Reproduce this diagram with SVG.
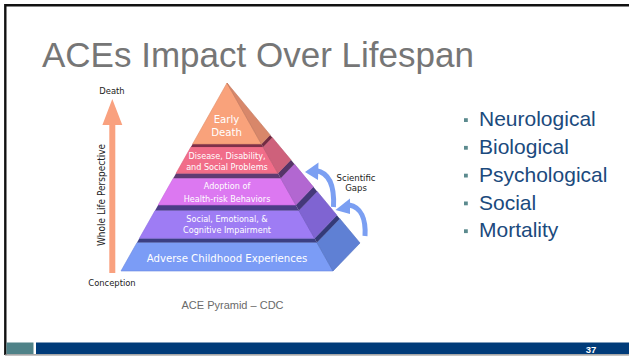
<svg xmlns="http://www.w3.org/2000/svg" width="629" height="356" viewBox="0 0 629 356">
  <style>
    .title { font-family: "Liberation Sans", Arial, sans-serif; font-size: 35px; fill: #767676; }
    .bullet { font-family: "Liberation Sans", Arial, sans-serif; font-size: 21px; fill: #1b4a7d; }
    .dot { fill: #5b8a8e; }
    .tier { font-family: "DejaVu Sans Condensed", "DejaVu Sans", sans-serif; font-stretch: condensed; fill: #ffffff; text-anchor: middle; }
    .side-label { font-family: "DejaVu Sans Condensed", "DejaVu Sans", sans-serif; font-stretch: condensed; fill: #222222; text-anchor: middle; }
    .caption { font-family: "Liberation Sans", Arial, sans-serif; font-size: 11px; fill: #6a6a6a; text-anchor: middle; }
    .gap-arrow { fill: none; stroke: #7b9ff2; stroke-width: 5; stroke-linecap: butt; }
    .gap-head { fill: #7b9ff2; }
    .face { stroke-width: 0.6; stroke-linejoin: round; }
  </style>

  <!-- slide frame -->
  <rect x="0" y="0" width="629" height="356" fill="#ffffff"/>
  <line x1="5.5" y1="5.3" x2="629" y2="5.3" stroke="#111111" stroke-width="2.4"/>
  <line x1="5.3" y1="4.1" x2="5.3" y2="355" stroke="#111111" stroke-width="2.4"/>

  <!-- footer bar -->
  <g id="footer">
    <rect x="6.5" y="342.5" width="27" height="11.5" fill="#4f8288"/>
    <rect x="36" y="342.5" width="593" height="11.5" fill="#003b79"/>
    <line x1="5" y1="354.8" x2="629" y2="354.8" stroke="#8a8a8a" stroke-width="1.2"/>
    <text x="591" y="353" font-family="Liberation Sans, Arial, sans-serif" font-size="9.5" font-weight="bold" fill="#ffffff" text-anchor="middle">37</text>
  </g>

  <!-- heading -->
  <text id="title" class="title" x="42" y="67">ACEs Impact Over Lifespan</text>

  <!-- bullet list -->
  <g id="bullets">
    <rect class="dot" x="464" y="118.2" width="3.8" height="3.8"/>
    <text class="bullet" x="479" y="126.3">Neurological</text>
    <rect class="dot" x="464" y="145.9" width="3.8" height="3.8"/>
    <text class="bullet" x="479" y="154">Biological</text>
    <rect class="dot" x="464" y="173.7" width="3.8" height="3.8"/>
    <text class="bullet" x="479" y="181.8">Psychological</text>
    <rect class="dot" x="464" y="201.5" width="3.8" height="3.8"/>
    <text class="bullet" x="479" y="209.6">Social</text>
    <rect class="dot" x="464" y="229.3" width="3.8" height="3.8"/>
    <text class="bullet" x="479" y="237.4">Mortality</text>
  </g>

  <!-- life-span axis -->
  <g id="lifespan-axis">
    <polygon points="112.3,99 122.3,125 115.3,125 115.3,273 109.3,273 109.3,125 102.4,125" fill="#f9a17f"/>
    <text class="side-label" x="112" y="94" font-size="9.3">Death</text>
    <text class="side-label" x="112" y="286" font-size="9.3">Conception</text>
    <text class="side-label" font-size="10" transform="translate(104.5,195) rotate(-90)">Whole Life Perspective</text>
  </g>

  <!-- pyramid tiers, bottom to top -->
  <g id="tier-ace">
    <polygon class="face" points="137.07,242.5 316.93,242.5 333,271 121,271" fill="#7b9cf6" stroke="#6a88e0"/>
    <polygon class="face" points="316.93,242.5 339.84,218.74 360,243 333,271" fill="#5f80d4" stroke="#4f6fc0"/>
    <text class="tier" x="227" y="261.5" font-size="11.3">Adverse Childhood Experiences</text>
  </g>
  <g id="band-4">
    <polygon points="139.44,238.3 314.56,238.3 316.93,242.5 137.07,242.5" fill="#3b3f84"/>
    <polygon points="314.56,238.3 336.86,215.17 339.84,218.74 316.93,242.5" fill="#343a78"/>
  </g>
  <g id="tier-impairment">
    <polygon class="face" points="155.12,210.5 298.88,210.5 314.56,238.3 139.44,238.3" fill="#9e7cf4" stroke="#8a6be0"/>
    <polygon class="face" points="298.88,210.5 317.19,191.51 336.86,215.17 314.56,238.3" fill="#7f64d2" stroke="#6c54bd"/>
    <text class="tier" x="227" y="221.5" font-size="9">Social, Emotional, &amp;</text>
    <text class="tier" x="227" y="233.3" font-size="9">Cognitive Impairment</text>
  </g>
  <g id="band-3">
    <polygon points="158.22,205 295.78,205 298.88,210.5 155.12,210.5" fill="#4b3d86"/>
    <polygon points="295.78,205 313.3,186.83 317.19,191.51 298.88,210.5" fill="#44387a"/>
  </g>
  <g id="tier-behaviors">
    <polygon class="face" points="173.27,178.3 280.73,178.3 295.78,205 158.22,205" fill="#dc78f1" stroke="#c867de"/>
    <polygon class="face" points="280.73,178.3 294.42,164.1 313.3,186.83 295.78,205" fill="#b267d1" stroke="#9d58bd"/>
    <text class="tier" x="227" y="189.3" font-size="9">Adoption of</text>
    <text class="tier" x="227" y="201.5" font-size="9">Health-risk Behaviors</text>
  </g>
  <g id="band-2">
    <polygon points="176.09,173.3 277.91,173.3 280.73,178.3 173.27,178.3" fill="#5e3a72"/>
    <polygon points="277.91,173.3 290.88,159.85 294.42,164.1 280.73,178.3" fill="#553468"/>
  </g>
  <g id="tier-disease">
    <polygon class="face" points="190.92,147 263.08,147 277.91,173.3 176.09,173.3" fill="#f16d89" stroke="#dd5e7a"/>
    <polygon class="face" points="263.08,147 272.27,137.47 290.88,159.85 277.91,173.3" fill="#ce617b" stroke="#b8546c"/>
    <text class="tier" x="227" y="158.5" font-size="9">Disease, Disability,</text>
    <text class="tier" x="227" y="170.2" font-size="9">and Social Problems</text>
  </g>
  <g id="band-1">
    <polygon points="192.61,144 261.39,144 263.08,147 190.92,147" fill="#7e3049"/>
    <polygon points="261.39,144 270.15,134.91 272.27,137.47 263.08,147" fill="#722b42"/>
  </g>
  <g id="tier-early-death">
    <polygon class="face" points="227,83 261.39,144 192.61,144" fill="#f9a27b" stroke="#e08d68"/>
    <polygon class="face" points="227,83 270.15,134.91 261.39,144" fill="#d8876a" stroke="#c0765b"/>
    <text class="tier" x="226.5" y="122.5" font-size="11.3">Early</text>
    <text class="tier" x="226.5" y="136" font-size="11.3">Death</text>
  </g>

  <!-- scientific gaps arrows -->
  <g id="connectors">
    <path class="gap-arrow" d="M333.5,207 C334.5,188 330,173 316,170.5"/>
    <polygon class="gap-head" points="305,172 318.5,162.5 318,180"/>
    <path class="gap-arrow" d="M365,236 C366,219 361,207 349,205"/>
    <polygon class="gap-head" points="335.5,210 350,198.5 350,214"/>
  </g>
  <g id="scientific-gaps">
    <text class="side-label" x="356" y="180.5" font-size="9.5">Scientific</text>
    <text class="side-label" x="356" y="190.5" font-size="9.5">Gaps</text>
  </g>

  <text id="caption" class="caption" x="232.5" y="309">ACE Pyramid – CDC</text>
</svg>
